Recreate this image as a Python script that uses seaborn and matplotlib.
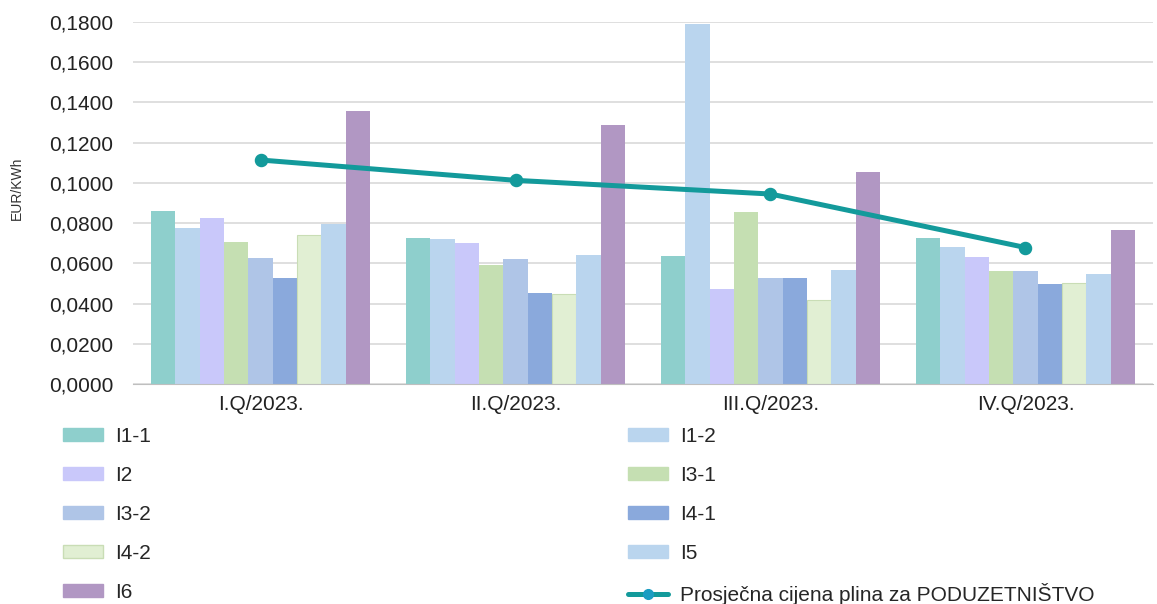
import pandas as pd
import matplotlib.pyplot as plt
import seaborn as sns
from matplotlib.patches import Patch
from matplotlib.lines import Line2D
from matplotlib.ticker import FuncFormatter

quarters = ["I.Q/2023.", "II.Q/2023.", "III.Q/2023.", "IV.Q/2023."]
groups = ["I1-1", "I1-2", "I2", "I3-1", "I3-2", "I4-1", "I4-2", "I5", "I6"]

i1_1 = [0.0862, 0.0724, 0.0638, 0.0724]
i1_2 = [0.0774, 0.0719, 0.1790, 0.0682]
i2 = [0.0828, 0.0702, 0.0471, 0.0632]
i3_1 = [0.0707, 0.0590, 0.0856, 0.0562]
i3_2 = [0.0627, 0.0620, 0.0529, 0.0562]
i4_1 = [0.0529, 0.0452, 0.0529, 0.0499]
i4_2 = [0.0742, 0.0449, 0.0416, 0.0502]
i5 = [0.0795, 0.0644, 0.0565, 0.0549]
i6 = [0.1360, 0.1286, 0.1056, 0.0768]
avg_price = [0.1114, 0.1013, 0.0945, 0.0679]
line_label = "Prosječna cijena plina za PODUZETNIŠTVO"

colors = ["#8ECFCC", "#BAD5EE", "#C9C8FA", "#C5DFB2", "#AFC5E7",
          "#8AA9DC", "#E1EFD3", "#BAD5EE", "#B197C3"]

series = [i1_1, i1_2, i2, i3_1, i3_2, i4_1, i4_2, i5, i6]
rows = []
for g, vals in zip(groups, series):
    for q, v in zip(quarters, vals):
        rows.append({"quarter": q, "group": g, "value": v})
df = pd.DataFrame(rows)

sns.set_style("white")
plt.rcParams["font.family"] = ["Liberation Sans", "DejaVu Sans"]

fig = plt.figure(figsize=(11.57, 6.04), dpi=100)
ax = fig.add_axes([0.115, 0.364, 0.8815, 0.5996])

sns.barplot(data=df, x="quarter", y="value", hue="group", order=quarters,
            hue_order=groups, palette=colors, width=0.86, gap=0,
            saturation=1, linewidth=0, legend=False, ax=ax)
# I4-2 bars have a slightly darker outline
for bar in ax.containers[6]:
    bar.set_edgecolor("#C9DDB5")
    bar.set_linewidth(0.8)

sns.pointplot(x=quarters, y=avg_price, color="#139A9B", markers="o",
              linewidth=3.6, markersize=7, ax=ax)
ax.lines[-1].set_markerfacecolor("#1B9DC2")
ax.lines[-1].set_markeredgecolor("#1B9DC2")

ax.set_ylim(0, 0.18)
ax.set_yticks([i * 0.02 for i in range(10)])
ax.yaxis.set_major_formatter(FuncFormatter(lambda v, p: f"{v:.4f}".replace(".", ",")))
ax.grid(axis="y", color="#D9D9D9", linewidth=1.2)
ax.set_axisbelow(True)
for s in ["top", "right", "left"]:
    ax.spines[s].set_visible(False)
ax.spines["bottom"].set_color("#BFBFBF")
ax.set_xlabel("")
ax.set_ylabel("EUR/KWh", fontsize=10, color="#333333")
ax.yaxis.set_label_coords(-0.107, 0.54)
ax.tick_params(axis="both", labelsize=15, colors="#222222", length=0)
ax.tick_params(axis="y", pad=14)
ax.tick_params(axis="x", pad=8)
ax.set_xlim(-0.5, 3.5)

handles = {g: Patch(facecolor=c, edgecolor=c) for g, c in zip(groups, colors)}
handles["I4-2"] = Patch(facecolor="#E1EFD3", edgecolor="#C9DDB5")
line_h = Line2D([], [], color="#139A9B", linewidth=3.6, marker="o",
                markersize=7, markerfacecolor="#1B9DC2", markeredgecolor="#1B9DC2")
col1 = ["I1-1", "I2", "I3-2", "I4-2", "I6"]
col2 = ["I1-2", "I3-1", "I4-1", "I5"]
leg_handles = [handles[g] for g in col1] + [handles[g] for g in col2] + [line_h]
leg_labels = col1 + col2 + [line_label]
fig.legend(leg_handles, leg_labels, ncol=2, loc="upper left",
           bbox_to_anchor=(0.0473, 0.307), frameon=False, fontsize=15,
           handlelength=1.92, handleheight=0.6, handletextpad=0.58,
           labelspacing=0.96, columnspacing=22.9, borderaxespad=0)

fig.savefig("out.png", dpi=100)
